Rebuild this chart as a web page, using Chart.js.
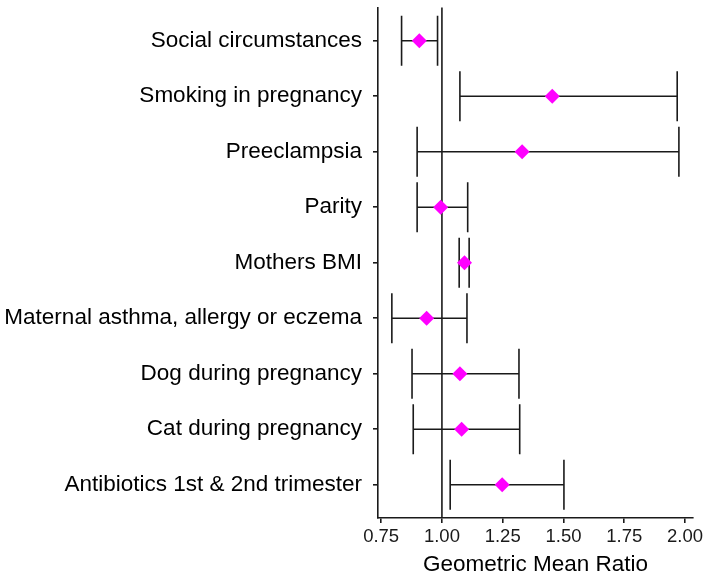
<!DOCTYPE html>
<html>
<head>
<meta charset="utf-8">
<script src="https://cdn.jsdelivr.net/npm/chart.js@4"></script>
<style>
html,body{margin:0;padding:0;background:#fff;}
canvas{display:block;}
</style>
</head>
<body>
<canvas id="c" width="705" height="578"></canvas>
<script>
const categories = ["Social circumstances","Smoking in pregnancy","Preeclampsia","Parity","Mothers BMI","Maternal asthma, allergy or eczema","Dog during pregnancy","Cat during pregnancy","Antibiotics 1st & 2nd trimester"];
const gmr   = [0.907, 1.454, 1.330, 0.995, 1.093, 0.937, 1.074, 1.081, 1.248];
const lower = [0.834, 1.074, 0.898, 0.898, 1.071, 0.794, 0.877, 0.882, 1.034];
const upper = [0.982, 1.968, 1.975, 1.106, 1.112, 1.103, 1.317, 1.320, 1.502];
const xTicks = [0.75, 1.00, 1.25, 1.50, 1.75, 2.00];
const refValue = 1.0;
const xTitle = "Geometric Mean Ratio";

const FONT = "'Liberation Sans', Arial, sans-serif";
const LINE = '#1a1a1a';

const errorBarPlugin = {
  id: 'errorBars',
  beforeDatasetsDraw(chart) {
    const {ctx, chartArea, scales: {x, y}} = chart;
    ctx.save();
    ctx.strokeStyle = LINE;
    ctx.lineWidth = 1.6;
    const rx = x.getPixelForValue(refValue);
    ctx.beginPath();
    ctx.moveTo(rx, chartArea.top);
    ctx.lineTo(rx, chartArea.bottom);
    ctx.stroke();
    const half = Math.abs(y.getPixelForValue(0.45) - y.getPixelForValue(0));
    for (let i = 0; i < categories.length; i++) {
      const yc = y.getPixelForValue(i);
      const xl = x.getPixelForValue(lower[i]);
      const xu = x.getPixelForValue(upper[i]);
      ctx.beginPath();
      ctx.moveTo(xl, yc); ctx.lineTo(xu, yc);
      ctx.moveTo(xl, yc - half); ctx.lineTo(xl, yc + half);
      ctx.moveTo(xu, yc - half); ctx.lineTo(xu, yc + half);
      ctx.stroke();
    }
    ctx.restore();
  }
};

new Chart(document.getElementById('c'), {
  type: 'scatter',
  data: {
    datasets: [{
      data: gmr.map((v, i) => ({x: v, y: i})),
      pointStyle: 'rectRot',
      pointRadius: 7.5,
      backgroundColor: '#ff00ff',
      borderColor: '#ff00ff',
      borderWidth: 0
    }]
  },
  options: {
    responsive: false,
    animation: false,
    layout: {padding: {top: 7, right: 12, left: 0, bottom: 0}},
    plugins: {legend: {display: false}, tooltip: {enabled: false}},
    scales: {
      x: {
        type: 'linear',
        min: 0.737, max: 2.033,
        afterBuildTicks: s => { s.ticks = xTicks.map(v => ({value: v})); },
        afterFit: s => { s.height = 60; s.paddingLeft = 0; s.paddingRight = 0; },
        ticks: {
          callback: v => Number(v).toFixed(2),
          color: '#1a1a1a',
          font: {family: FONT, size: 18.5},
          padding: 3,
          maxRotation: 0
        },
        grid: {display: true, drawOnChartArea: false, drawTicks: true, tickLength: 5, color: LINE, lineWidth: 1.6},
        border: {display: true, color: LINE, width: 1.6},
        title: {display: true, text: xTitle, color: '#000', font: {family: FONT, size: 22.5}, padding: {top: 0, bottom: 0}}
      },
      y: {
        type: 'linear',
        min: -0.6, max: 8.6,
        reverse: true,
        afterBuildTicks: s => { s.ticks = categories.map((c, i) => ({value: i})); },
        afterFit: s => { s.width = 378; s.paddingTop = 0; s.paddingBottom = 0; },
        ticks: {
          callback: v => categories[v],
          color: '#000',
          font: {family: FONT, size: 22.5},
          padding: 11,
          autoSkip: false
        },
        grid: {display: true, drawOnChartArea: false, drawTicks: true, tickLength: 5, color: LINE, lineWidth: 1.6},
        border: {display: true, color: LINE, width: 1.6}
      }
    }
  },
  plugins: [errorBarPlugin]
});
</script>
</body>
</html>
